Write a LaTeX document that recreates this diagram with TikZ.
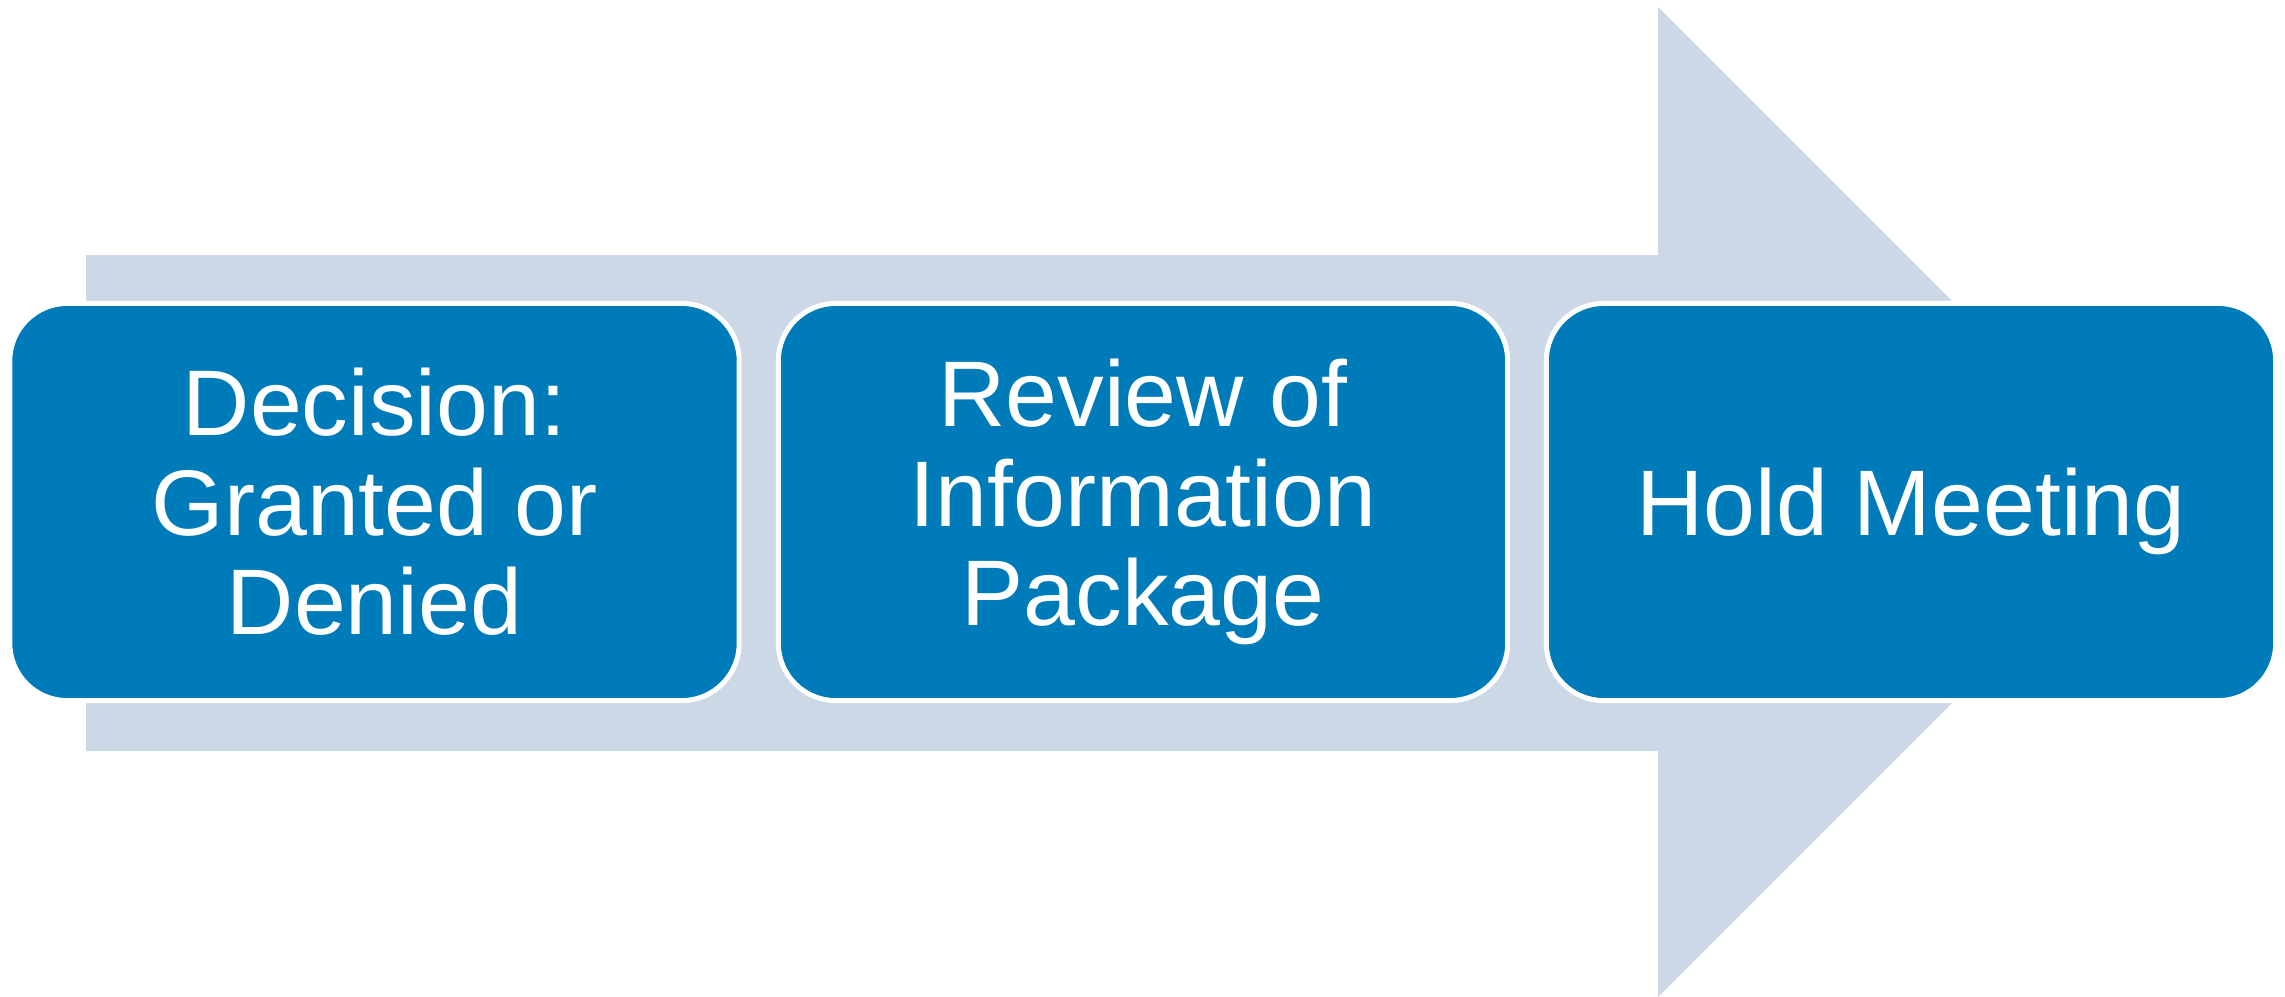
\documentclass[tikz,border=0pt]{standalone}
\usepackage{fontspec}
\setmainfont{Liberation Sans}
\definecolor{arrowfill}{RGB}{205,216,231}
\definecolor{boxblue}{RGB}{0,123,186}
\begin{document}
\begin{tikzpicture}[x=0.01cm,y=-0.01cm,
  stepbox/.style={rectangle, rounded corners=0.575cm, fill=boxblue, draw=white,
    line width=0.05cm, minimum width=7.29cm, minimum height=3.97cm, inner sep=0pt,
    text=white, align=center, font=\fontsize{26.5pt}{28.3pt}\selectfont}]
\useasboundingbox (0,0) rectangle (2285,996);
\fill[arrowfill] (86,255) -- (1658,255) -- (1658,7) -- (2153,502) -- (1658,997)
  -- (1658,751) -- (86,751) -- cycle;
\node[stepbox] (b1) at (374.5,502) {Decision:\\Granted or\\Denied};
\node[stepbox] (b2) at (1143,502) {Review of\\Information\\Package};
\node[stepbox, text depth=0pt] (b3) at (1911,502) {Hold Meeting};
\end{tikzpicture}
\end{document}
